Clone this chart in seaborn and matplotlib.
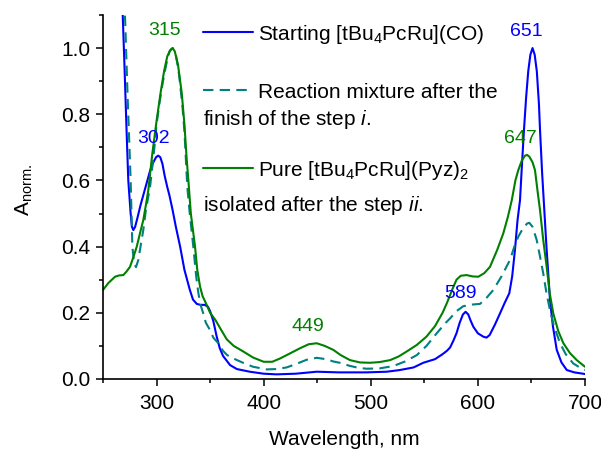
import matplotlib
matplotlib.use("Agg")
import matplotlib.pyplot as plt
import seaborn as sns
from matplotlib.lines import Line2D
from matplotlib.ticker import MultipleLocator

# ---------------- data ----------------
wl_start = [267, 268.4, 270, 272, 273.6, 275.8, 277, 278.3, 280, 282, 285, 288, 291, 294, 297,
            299.5, 301.5, 303.5, 305.5, 307.5, 310, 312, 315, 318, 322, 326, 331, 334, 337.5, 341, 345,
            348, 350, 353, 356, 359, 362, 368.6, 375, 387, 400, 412, 430, 449.5, 470, 496, 515, 527, 540,
            549, 560, 567, 571, 574, 577, 580, 583, 586, 588.5, 591, 593, 595.7, 600, 605, 608,
            611, 616, 620.6, 625, 629.3, 632, 634.6, 637, 639.3, 641, 643, 645, 647, 649, 651,
            653, 655, 657, 658, 660, 662, 664, 667.3, 670, 673.6, 678, 683, 690, 700]
a_start = [1.24, 1.10, 0.95, 0.75, 0.60, 0.50, 0.46, 0.45, 0.46, 0.485, 0.525, 0.56, 0.595, 0.63, 0.655,
           0.670, 0.675, 0.67, 0.65, 0.615, 0.58, 0.555, 0.51, 0.46, 0.40, 0.33, 0.27, 0.24, 0.227, 0.224, 0.224,
           0.218, 0.205, 0.175, 0.13, 0.093, 0.07, 0.042, 0.03, 0.022, 0.016, 0.014, 0.016, 0.022, 0.02, 0.02,
           0.022, 0.027, 0.035, 0.049, 0.06, 0.075, 0.085, 0.095, 0.115, 0.138, 0.17, 0.195, 0.203, 0.195, 0.178,
           0.158, 0.138, 0.128, 0.125, 0.133, 0.165, 0.198, 0.23, 0.259, 0.31, 0.39, 0.48, 0.54, 0.64, 0.752,
           0.85, 0.93, 0.98, 1.0, 0.98, 0.93, 0.83, 0.752, 0.62, 0.51, 0.40, 0.239, 0.16, 0.088, 0.05, 0.027,
           0.02, 0.015]

wl_mix = [269.5, 270.5, 273, 275.8, 277.4, 279, 280.8, 283, 285, 287.6, 290, 293.9, 296, 298, 300,
          303, 306, 309, 312, 315, 318, 321, 324, 326, 328.7, 331, 334.3, 337, 339, 341, 343.6,
          346, 349.9, 353, 357.6, 362, 366, 371.7, 380, 390, 402.8, 412, 421.5, 430, 440, 449.5,
          458, 465, 471, 480, 488, 496, 508, 521, 532, 542.9, 552, 561.5, 570, 574, 580, 586.4,
          595, 602, 608, 614.4, 622, 630, 634, 637.7, 642, 646, 648, 651, 654.9, 658, 661, 664,
          667.3, 671, 676.7, 682, 689, 695, 700]
a_mix = [1.2, 1.10, 0.85, 0.60, 0.40, 0.35, 0.338, 0.36, 0.40, 0.45, 0.51, 0.58, 0.64, 0.70, 0.77,
         0.84, 0.90, 0.95, 0.99, 1.0, 0.98, 0.92, 0.83, 0.75, 0.58, 0.50, 0.40, 0.31, 0.26, 0.225, 0.198,
         0.17, 0.148, 0.125, 0.108, 0.085, 0.072, 0.062, 0.05, 0.037, 0.029, 0.03, 0.035, 0.045, 0.058, 0.064,
         0.06, 0.053, 0.049, 0.04, 0.034, 0.031, 0.032, 0.039, 0.053, 0.072, 0.1, 0.138, 0.17, 0.183, 0.205, 0.22,
         0.225, 0.227, 0.245, 0.269, 0.31, 0.36, 0.40, 0.43, 0.455, 0.47, 0.472, 0.46, 0.42, 0.37, 0.319, 0.26,
         0.208, 0.16, 0.108, 0.075, 0.047, 0.035, 0.027]

wl_pure = [250, 255, 261.2, 265, 269, 272, 275.2, 278, 281.5, 284.5, 287.6, 290, 292.3, 296, 300,
           304, 307, 310, 313, 315, 317, 320, 323.5, 326, 328, 329.7, 332, 335.9, 338, 340.6, 343,
           346.8, 350, 355, 360, 365.5, 372, 381, 390, 400, 408, 415.3, 425, 434, 442, 449.5, 457,
           465, 472, 480.6, 490, 499.3, 508, 518, 526, 533.5, 543, 552, 560, 567, 571, 576, 580,
           584, 589.5, 595, 600.4, 606, 611.3, 618, 623.7, 628, 631.6, 635, 637.7, 641, 644, 646,
           648, 651, 653.3, 656, 658, 661, 664.2, 667, 670.4, 675, 679.8, 686, 692.3, 700]
a_pure = [0.269, 0.29, 0.309, 0.313, 0.314, 0.325, 0.339, 0.365, 0.40, 0.44, 0.48, 0.525, 0.571, 0.68, 0.78,
          0.87, 0.93, 0.975, 0.995, 1.0, 0.99, 0.95, 0.864, 0.77, 0.67, 0.60, 0.50, 0.40, 0.33, 0.279, 0.25,
          0.224, 0.2, 0.178, 0.15, 0.12, 0.1, 0.083, 0.065, 0.052, 0.052, 0.062, 0.078, 0.093, 0.105, 0.108, 0.1,
          0.088, 0.072, 0.057, 0.05, 0.049, 0.051, 0.057, 0.068, 0.083, 0.103, 0.128, 0.16, 0.2, 0.229, 0.27, 0.30,
          0.312, 0.314, 0.31, 0.309, 0.32, 0.339, 0.39, 0.44, 0.49, 0.54, 0.6, 0.631, 0.66, 0.675, 0.677,
          0.672, 0.655, 0.631, 0.56, 0.51, 0.42, 0.339, 0.26, 0.198, 0.145, 0.108, 0.078, 0.057, 0.037]

labels = ["Starting [tBu$_4$PcRu](CO)",
          "Reaction mixture after the",
          "Pure [tBu$_4$PcRu](Pyz)$_2$"]
second_lines = ["finish of the step $i$.", "isolated after the step $ii$."]

peak_text = ["315", "302", "651", "647", "449", "589"]
peak_x = [307.6, 296.9, 645.4, 639.3, 441.2, 583.6]
peak_y = [1.039, 0.712, 1.036, 0.712, 0.146, 0.244]
peak_color = ["#008000", "#0000FF", "#0000FF", "#008000", "#008000", "#0000FF"]

x_ticks = [300, 400, 500, 600, 700]
y_ticks = [0.0, 0.2, 0.4, 0.6, 0.8, 1.0]

# ---------------- style ----------------
sns.set_theme(style="ticks")
plt.rcParams.update({
    "font.family": ["Liberation Sans", "DejaVu Sans"],
    "mathtext.fontset": "custom",
    "mathtext.rm": "Liberation Sans",
    "mathtext.it": "Liberation Sans:italic",
    "mathtext.bf": "Liberation Sans:bold",
    "axes.edgecolor": "black",
    "axes.labelcolor": "black",
    "axes.linewidth": 1.2,
    "xtick.color": "black",
    "ytick.color": "black",
    "xtick.labelcolor": "black",
    "ytick.labelcolor": "black",
    "text.color": "black",
})

fig = plt.figure(figsize=(6.01, 4.5), dpi=100)
ax = fig.add_axes([0.1714, 0.1578, 0.8020, 0.8089])

c_blue, c_teal, c_green = "#0000FF", "#008080", "#008000"

sns.lineplot(x=wl_start, y=a_start, ax=ax, color=c_blue, linewidth=1.5, sort=False, estimator=None)
sns.lineplot(x=wl_mix, y=a_mix, ax=ax, color=c_teal, linewidth=1.5, sort=False, estimator=None,
             linestyle="--")
sns.lineplot(x=wl_pure, y=a_pure, ax=ax, color=c_green, linewidth=1.5, sort=False, estimator=None)
ax.lines[1].set_dashes((5, 3))

ax.set_xlim(250, 700)
ax.set_ylim(0, 1.1)
ax.set_xticks(x_ticks)
ax.set_yticks(y_ticks)
ax.set_yticklabels([f"{v:.1f}" for v in y_ticks])
ax.xaxis.set_minor_locator(MultipleLocator(50))
ax.yaxis.set_minor_locator(MultipleLocator(0.1))
ax.tick_params(which="major", direction="out", length=5, width=1.1, labelsize=15, pad=4)
ax.tick_params(which="minor", direction="out", length=3, width=1.1)
ax.tick_params(axis="x", which="major", pad=6)
sns.despine(ax=ax)

ax.set_xlabel("Wavelength, nm", fontsize=15)
ax.set_ylabel(r"A$_{\mathrm{norm.}}$", fontsize=15)
ax.xaxis.set_label_coords(0.5, -0.14)
ax.yaxis.set_label_coords(-0.141, 0.52)

# peak labels
for t, x, y, c in zip(peak_text, peak_x, peak_y, peak_color):
    ax.text(x, y, t, color=c, fontsize=14, ha="center", va="baseline")

# legend (three single entries so each handle sits on the first text line)
handles = [Line2D([], [], color=c_blue, lw=1.5),
           Line2D([], [], color=c_teal, lw=1.5, dashes=(5, 3)),
           Line2D([], [], color=c_green, lw=1.5)]
leg_y = [0.947, 0.788, 0.574]
legends = []
for h, lab, y in zip(handles, labels, leg_y):
    leg = ax.legend([h], [lab], loc="center left", bbox_to_anchor=(0.2075, y), frameon=False,
                    fontsize=15, handlelength=2.38, handletextpad=0.25, borderpad=0, borderaxespad=0)
    legends.append(leg)
for leg in legends[:-1]:
    ax.add_artist(leg)

ax.text(0.2075, 0.698, second_lines[0], transform=ax.transAxes, fontsize=15, ha="left", va="baseline")
ax.text(0.2075, 0.4615, second_lines[1], transform=ax.transAxes, fontsize=15, ha="left", va="baseline")

fig.savefig("out.png", dpi=100)
